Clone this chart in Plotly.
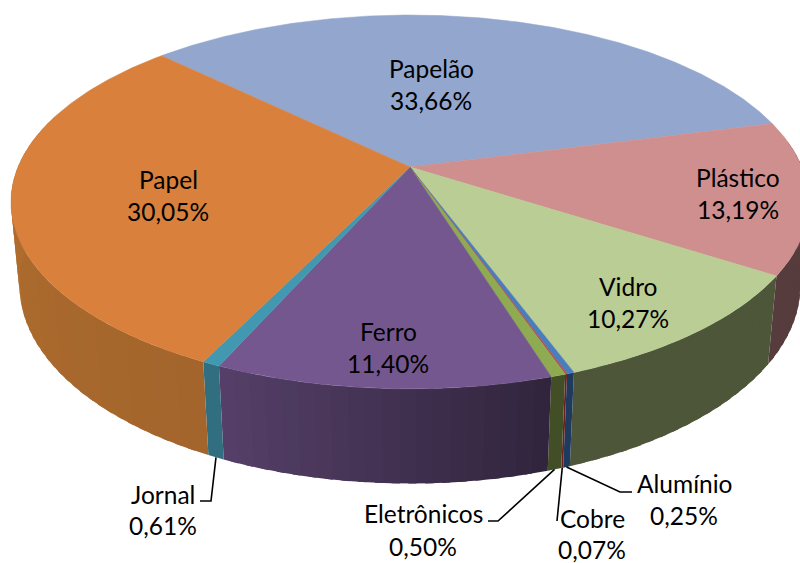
import numpy as np
import plotly.graph_objects as go

categories = ["Papelão", "Plástico", "Vidro", "Alumínio", "Cobre", "Eletrônicos", "Ferro", "Jornal", "Papel"]
values = [33.66, 13.19, 10.27, 0.25, 0.07, 0.50, 11.40, 0.61, 30.05]
top_colors = ["#92A6CE", "#CE8F8E", "#B9CD94", "#4A7DBB", "#B3504F", "#8FAB51", "#75578F", "#4298B0", "#D8803C"]
side_start = ["#6F80A0", "#563C3C", "#4E5639", "#1E3A5E", "#6B2020", "#3E4A22", "#30243C", "#306E80", "#A3652C"]
side_end = ["#6F80A0", "#563C3C", "#4E5639", "#1E3A5E", "#6B2020", "#46522A", "#564069", "#306E80", "#B8722F"]

# label centre positions (first line, second line) in page pixels
label_pos = {
    "Papelão": (431, 68, 100), "Plástico": (738, 177, 209), "Vidro": (628, 286, 318),
    "Alumínio": (684, 483, 515), "Cobre": (592, 518, 549), "Eletrônicos": (423, 513, 546),
    "Ferro": (388, 331, 363), "Jornal": (163, 494, 525), "Papel": (168, 179, 211),
}
# leader line bends, from the pie rim towards the label
leaders = {
    "Jornal": [(211, 501), (200, 501)],
    "Eletrônicos": [(498, 521), (488, 521)],
    "Cobre": [(557, 521)],
    "Alumínio": [(620, 492), (632, 492)],
}

# perspective model of the tilted pie
CX, CY, A, B, K, H, M = 410, 167, 392, 180.4, 0.187, 83.6, 0.021
START = -45.8


def project(deg, lower=False):
    t = np.radians(deg)
    u, v = np.sin(t), np.cos(t)
    d = 1 + K * v + (M if lower else 0)
    return CX + A * u / d, CY + (-B * v + (H if lower else 0)) / d


def mix(c1, c2, f):
    a = [int(c1[i:i + 2], 16) for i in (1, 3, 5)]
    b = [int(c2[i:i + 2], 16) for i in (1, 3, 5)]
    return "#%02X%02X%02X" % tuple(round(p + (q - p) * f) for p, q in zip(a, b))


def poly(fig, xs, ys, color):
    fig.add_trace(go.Scatter(x=list(xs), y=list(ys), mode="lines", fill="toself", fillcolor=color,
                             line=dict(color=color, width=0), hoverinfo="skip", showlegend=False))


fig = go.Figure()
edges = START + np.concatenate([[0], np.cumsum(values)]) * 360 / sum(values)

# outer walls: each strip runs on under the next one so that no seams show
for i in range(len(values)):
    a0, a1 = edges[i], edges[i + 1]
    n = max(1, int((a1 - a0) / 2))
    grid = np.linspace(a0, a1, n + 1)
    for j in range(n):
        if 80 < (grid[j] % 360) < 285:
            end = grid[j + 1] + (1.0 if (j < n - 1) else 0.0)
            ang = np.linspace(grid[j], end, 5)
            tx, ty = project(ang)
            bx, by = project(ang[::-1], True)
            poly(fig, np.r_[tx, bx], np.r_[ty, by], mix(side_start[i], side_end[i], (j + .5) / n))

# top faces
for i in range(len(values)):
    ang = np.linspace(edges[i], edges[i + 1], max(3, int(edges[i + 1] - edges[i]) * 2))
    x, y = project(ang)
    fig.add_trace(go.Scatter(x=np.r_[CX, x, CX], y=np.r_[CY, y, CY], mode="lines", fill="toself",
                             fillcolor=top_colors[i], line=dict(color=top_colors[i], width=0.5),
                             hoverinfo="skip", showlegend=False))

# leader lines
for i, name in enumerate(categories):
    if name in leaders:
        x0, y0 = project((edges[i] + edges[i + 1]) / 2, True)
        pts = leaders[name]
        fig.add_trace(go.Scatter(x=[x0] + [p[0] for p in pts], y=[y0] + [p[1] for p in pts], mode="lines",
                                 line=dict(color="#000000", width=1.6), hoverinfo="skip", showlegend=False))

# labels
for name, val in zip(categories, values):
    cx, y1, y2 = label_pos[name]
    for txt, yy in ((name, y1), (f"{val:.2f}%".replace(".", ","), y2)):
        fig.add_annotation(x=cx, y=yy, text=txt, showarrow=False, xanchor="center", yanchor="middle",
                           font=dict(family="Lato", size=24.5, color="#000000"))

fig.update_layout(width=800, height=563, margin=dict(l=0, r=0, t=0, b=0),
                  paper_bgcolor="#FFFFFF", plot_bgcolor="#FFFFFF", showlegend=False,
                  xaxis=dict(range=[0, 800], visible=False, fixedrange=True),
                  yaxis=dict(range=[563, 0], visible=False, fixedrange=True))
fig.write_html("out.html", config={"displayModeBar": False},
               post_script="document.body.style.margin='0';document.body.style.overflow='hidden';")
